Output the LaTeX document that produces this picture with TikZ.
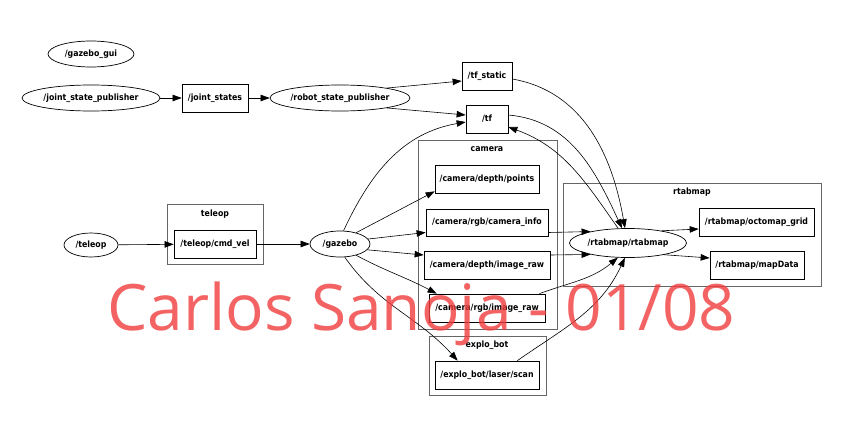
\documentclass[tikz,border=0pt]{standalone}
\usepackage{fontspec}
\setmainfont{DejaVu Sans Condensed}
\newfontfamily\wmfont{Open Sans}
\usetikzlibrary{shapes.geometric,arrows.meta}
\definecolor{clustergray}{rgb}{0.4,0.4,0.4}
\definecolor{wmred}{RGB}{240,60,60}
\begin{document}
\begin{tikzpicture}[x=1pt,y=1pt,
  every node/.style={font=\bfseries\fontsize{8.7}{10}\selectfont, inner sep=0pt},
  topic/.style={draw, rectangle, line width=0.7pt},
  rosnode/.style={draw, ellipse, line width=0.7pt},
  cluster/.style={draw=clustergray, rectangle, line width=0.9pt},
  edge/.style={-{Triangle[length=9pt,width=6.5pt]}, line width=0.6pt},
  watermark/.style={font=\wmfont\fontsize{64}{70}\selectfont, text=wmred, text opacity=0.8, anchor=base west}]
\useasboundingbox (0,-423) rectangle (867,0);
% clusters
\node[cluster, minimum width=139pt, minimum height=189pt] (camcl) at (487.5,-234.5) {};
\node (camlbl) at (487,-149) {camera};
\node[cluster, minimum width=117pt, minimum height=59pt] (explocl) at (487.5,-365.5) {};
\node (explolbl) at (487,-345) {explo\_bot};
\node[cluster, minimum width=258pt, minimum height=103pt] (rtabcl) at (692,-234.5) {};
\node (rtablbl) at (692,-192) {rtabmap};
\node[cluster, minimum width=96pt, minimum height=60pt] (telcl) at (215,-234) {};
\node (tellbl) at (215,-214) {teleop};
% ros nodes
\node[rosnode, minimum width=86pt, minimum height=26pt] (gui) at (91,-54) {/gazebo\_gui};
\node[rosnode, minimum width=138pt, minimum height=26pt] (jsp) at (91,-98) {/joint\_state\_publisher};
\node[rosnode, minimum width=140pt, minimum height=26pt] (rsp) at (340,-98) {/robot\_state\_publisher};
\node[rosnode, minimum width=54pt, minimum height=24pt] (teleop) at (91,-245) {/teleop};
\node[rosnode, minimum width=60pt, minimum height=26pt] (gazebo) at (340,-244) {/gazebo};
\node[rosnode, minimum width=117pt, minimum height=29pt] (rtab) at (628,-243) {/rtabmap/rtabmap};
% topics
\node[topic, minimum width=66pt, minimum height=28pt] (js) at (215,-98) {/joint\_states};
\node[topic, minimum width=50pt, minimum height=28pt] (tfs) at (487,-76) {/tf\_static};
\node[topic, minimum width=42pt, minimum height=28pt] (tf) at (487,-119) {/tf};
\node[topic, minimum width=104pt, minimum height=28pt] (points) at (487,-179) {/camera/depth/points};
\node[topic, minimum width=122pt, minimum height=27pt] (info) at (487,-222.5) {/camera/rgb/camera\_info};
\node[topic, minimum width=126pt, minimum height=28pt] (draw) at (487,-265) {/camera/depth/image\_raw};
\node[topic, minimum width=116pt, minimum height=28pt] (rgbraw) at (487,-308) {/camera/rgb/image\_raw};
\node[topic, minimum width=104pt, minimum height=28pt] (scan) at (487,-375) {/explo\_bot/laser/scan};
\node[topic, minimum width=82pt, minimum height=28pt] (cmdvel) at (215,-244) {/teleop/cmd\_vel};
\node[topic, minimum width=115pt, minimum height=28pt] (octo) at (756.5,-222) {/rtabmap/octomap\_grid};
\node[topic, minimum width=94pt, minimum height=28pt] (mapdata) at (757,-265) {/rtabmap/mapData};
% edges
\draw[edge] (jsp) -- (js);
\draw[edge] (js) -- (rsp);
\draw[edge] (rsp.12) -- ([yshift=-5pt]tfs.west);
\draw[edge] (rsp.-12) -- ([yshift=4pt]tf.west);
\draw[edge] (gazebo.75) to[out=65,in=190] ([yshift=-3pt]tf.west);
\draw[edge] (gazebo.35) -- ([yshift=2pt]points.south west);
\draw[edge] (gazebo.10) -- ([yshift=-10pt]info.west);
\draw[edge] (gazebo.-12) -- ([yshift=10pt]draw.west);
\draw[edge] (gazebo.-35) to[out=-28,in=152] ([xshift=8pt]rgbraw.north west);
\draw[edge] (gazebo.-70) to[out=-55,in=132] ([xshift=23pt]scan.north west);
\draw[edge] (teleop) -- (cmdvel);
\draw[edge] (cmdvel) -- (gazebo);
\draw[edge] ([yshift=-3pt]tfs.east) to[out=-10,in=100] ([xshift=-3pt]rtab.north);
\draw[edge] ([yshift=4pt]tf.east) to[out=-5,in=115] ([xshift=-6pt]rtab.north);
\draw[edge] ([xshift=-10pt]rtab.north) to[out=125,in=-20] ([yshift=-8pt]tf.east);
\draw[edge] ([yshift=-10pt]info.east) -- (rtab.163);
\draw[edge] ([yshift=10pt]draw.east) -- (rtab.197);
\draw[edge] ([xshift=-6pt]rgbraw.north east) to[out=20,in=220] (rtab.235);
\draw[edge] ([xshift=-22pt]scan.north east) to[out=35,in=245] (rtab.258);
\draw[edge] (rtab.20) -- (octo.west |- 0,-229);
\draw[edge] (rtab.-18) -- (mapdata.west |- 0,-258);
% watermark
\node[watermark] (wm) at (107,-330) {Carlos Sanoja - 01/08};
\end{tikzpicture}
\end{document}
